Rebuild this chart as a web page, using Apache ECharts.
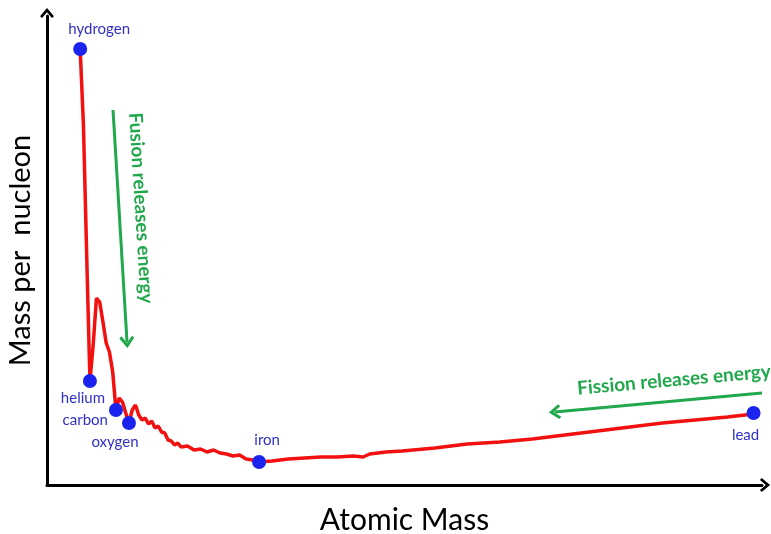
<!DOCTYPE html>
<html>
<head>
<meta charset="utf-8">
<script src="https://cdn.jsdelivr.net/npm/echarts@6/dist/echarts.min.js"></script>
<style>html,body{margin:0;padding:0;background:#fff}#c{width:771px;height:534px}</style>
</head>
<body>
<div id="c"></div>
<script>
// Curve: atomic mass number vs. mass per nucleon (arbitrary units)
var masses = [1,2,3,4,5,6,7,8,9,10,11,12,13,14,15,16,17,18,19,20,21,22,23,24,25,26,27,28,29,30,31,32,34,36,38,40,42,44,46,48,50,52,54,56,60,65,70,75,80,85,88,90,95,100,110,120,130,140,150,160,170,180,190,200,208];
var massPerNucleon = [436,360,230,104,140,187,183,163,142,133,113,75,87,83,72,62,75,80,70,65,67,61,64,57,59,53,52,45,44,40,42,38,39,35,36,33,35,32,31,29,30,26,25,23,24,26,27,28,28,29,28,31,33,34,37,41,43,46,50,54,58,62,65,68,71];

// Highlighted elements
var elements = ['hydrogen','helium','carbon','oxygen','iron','lead'];
var elementMass = [1,4,12,16,56,208];
var elementValue = [436,104,75,62,23,72];

// Annotation arrows (data space)
var fusionArrow = [[11.1,375],[15.4,143]];
var fissionArrow = [[210.6,92],[146.9,73]];
var fusionText = 'Fusion releases energy';
var fissionText = 'Fission releases energy';

var labelStyle = {
  hydrogen: {position:'top', offset:[19,0]},
  helium: {position:'bottom', offset:[-7,-2]},
  carbon: {position:'left', offset:[4,10]},
  oxygen: {position:'bottom', offset:[-14,0]},
  iron: {position:'top', offset:[8,-2]},
  lead: {position:'bottom', offset:[-8,3]}
};

var GREEN = '#22a84c';
var chevron = 'path://M10,0 L20,12 L17,14.5 L10,6 L3,14.5 L0,12 Z';

var curve = masses.map(function(m,i){return [m, massPerNucleon[i]];});
var pts = elements.map(function(n,i){
  var ls = labelStyle[n];
  return {name:n, value:[elementMass[i], elementValue[i]],
    label:{show:true, formatter:n, position:ls.position, offset:ls.offset}};
});

var chart = echarts.init(document.getElementById('c'), null, {renderer:'canvas'});
chart.setOption({
  animation:false,
  backgroundColor:'#fff',
  grid:{left:47, right:9, top:16, bottom:49, containLabel:false, outerBoundsMode:'none'},
  xAxis:{type:'value', min:-9.2, max:210.6,
    name:'Atomic Mass', nameLocation:'middle', nameGap:20,
    nameTextStyle:{fontFamily:'Lato', fontSize:30, color:'#000'},
    axisLine:{show:true, onZero:false, symbol:['none',chevron], symbolSize:[14,12], symbolOffset:[0,3], lineStyle:{color:'#000', width:3}},
    axisTick:{show:false}, axisLabel:{show:false}, splitLine:{show:false}},
  yAxis:{type:'value', min:0, max:469,
    name:'Mass per  nucleon', nameLocation:'middle', nameGap:12, nameRotate:90,
    nameTextStyle:{fontFamily:'Lato', fontSize:29, color:'#000'},
    axisLine:{show:true, onZero:false, symbol:['none',chevron], symbolSize:[14,12], symbolOffset:[0,3], lineStyle:{color:'#000', width:3}},
    axisTick:{show:false}, axisLabel:{show:false}, splitLine:{show:false}},
  series:[
    {type:'line', data:curve, showSymbol:false, symbol:'none', clip:false,
     lineStyle:{color:'#f21010', width:3.5}, z:2,
     markLine:{silent:true, symbol:['none',chevron], symbolSize:[15,12], animation:false,
       label:{show:false},
       lineStyle:{color:GREEN, width:3, type:'solid'},
       data:[
         [{coord:fusionArrow[0]},{coord:fusionArrow[1]}],
         [{coord:fissionArrow[0]},{coord:fissionArrow[1]}]
       ]}
    },
    {type:'scatter', data:pts, symbol:'circle', symbolSize:14, z:3,
     itemStyle:{color:'#1a24ee', opacity:1},
     label:{color:'#3030c8', fontFamily:'Lato', fontSize:15}}
  ],
  graphic:[
    {type:'text', x:141, y:208, rotation:-1.51, z:10,
     style:{text:fusionText, fill:GREEN, font:'bold 19px Lato', align:'center', verticalAlign:'middle'}},
    {type:'text', x:674, y:380, rotation:0.088, z:10,
     style:{text:fissionText, fill:GREEN, font:'bold 19px Lato', align:'center', verticalAlign:'middle'}}
  ]
});
</script>
</body>
</html>
